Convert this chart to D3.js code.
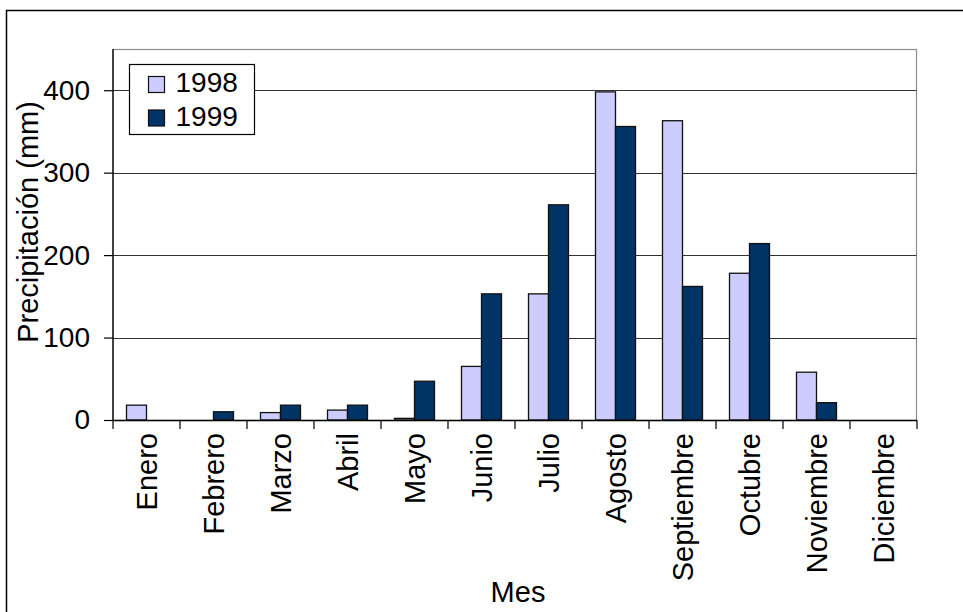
<!DOCTYPE html>
<html>
<head>
<meta charset="utf-8">
<script src="https://cdn.jsdelivr.net/npm/d3@7"></script>
<style>
  html, body { margin: 0; padding: 0; background: #fff; }
  svg { display: block; }
  text { font-family: "Liberation Sans", Arial, sans-serif; fill: #000; }
</style>
</head>
<body>
<svg id="chart" width="963" height="612"></svg>
<script>
// Monthly rainfall, two seasons
const months = ["Enero", "Febrero", "Marzo", "Abril", "Mayo", "Junio", "Julio",
                "Agosto", "Septiembre", "Octubre", "Noviembre", "Diciembre"];
const seriesNames = ["1998", "1999"];
const rain1998 = [18, 0, 9, 12, 2, 65, 153, 398, 363, 178, 58, 0];
const rain1999 = [0, 10, 18, 18, 47, 153, 261, 356, 162, 214, 21, 0];
const yTicks = [0, 100, 200, 300, 400];
const seriesColors = ["#CCCCFF", "#003366"];

const W = 963, H = 612;
const plot = { left: 113, top: 49, right: 917, bottom: 420 };
const FS = 29;

const svg = d3.select("#chart");

// outer chart frame
svg.append("rect")
  .attr("x", 6.5).attr("y", 10.5)
  .attr("width", W + 20).attr("height", H + 20)
  .attr("fill", "#fff").attr("stroke", "#000").attr("stroke-width", 1.5);

const x = d3.scaleBand().domain(months).range([plot.left, plot.right]).padding(0);
const xs = d3.scaleBand().domain(seriesNames).range([0, x.bandwidth()])
  .paddingInner(0).paddingOuter(0.675);
const y = d3.scaleLinear().domain([0, 450]).range([plot.bottom, plot.top]);

// plot area border
svg.append("rect")
  .attr("x", plot.left).attr("y", plot.top + 0.5)
  .attr("width", plot.right - plot.left - 0.5).attr("height", plot.bottom - plot.top)
  .attr("fill", "none").attr("stroke", "#8c8c8c").attr("stroke-width", 1.2);

// gridlines
svg.append("g").selectAll("line").data(yTicks.filter(d => d > 0)).join("line")
  .attr("x1", plot.left).attr("x2", plot.right - 0.5)
  .attr("y1", d => Math.round(y(d)) + 0.5).attr("y2", d => Math.round(y(d)) + 0.5)
  .attr("stroke", "#333").attr("stroke-width", 1);

// bars
const rows = months.map((m, i) => ({ month: m, values: [rain1998[i], rain1999[i]] }));
const groups = svg.append("g").selectAll("g").data(rows).join("g")
  .attr("transform", d => `translate(${x(d.month)},0)`);
groups.selectAll("rect")
  .data(d => d.values.map((v, j) => ({ series: seriesNames[j], value: v, j })).filter(e => e.value > 0))
  .join("rect")
  .attr("x", d => xs(d.series))
  .attr("width", xs.bandwidth())
  .attr("y", d => y(d.value))
  .attr("height", d => y(0) - y(d.value))
  .attr("fill", d => seriesColors[d.j])
  .attr("stroke", "#111").attr("stroke-width", 1.3);

// y axis
const yAxis = d3.axisLeft(y).tickValues(yTicks).tickSize(9).tickPadding(14).tickFormat(d3.format("d"));
const gy = svg.append("g").attr("transform", `translate(${plot.left},0)`).call(yAxis);
gy.select(".domain").attr("stroke", "#000").attr("stroke-width", 1.3).attr("d", `M0,${plot.top}V${plot.bottom}`);
gy.selectAll(".tick line").attr("stroke", "#000").attr("stroke-width", 1.2);
gy.selectAll(".tick text").attr("font-size", 28).attr("font-family", "Liberation Sans, Arial, sans-serif");

// x axis: ticks at category boundaries
const gx = svg.append("g");
gx.append("line")
  .attr("x1", plot.left).attr("x2", plot.right)
  .attr("y1", plot.bottom + 0.5).attr("y2", plot.bottom + 0.5)
  .attr("stroke", "#000").attr("stroke-width", 1.3);
const bounds = months.map(m => x(m)).concat([plot.right]);
gx.selectAll("line.tk").data(bounds).join("line").attr("class", "tk")
  .attr("x1", d => d).attr("x2", d => d)
  .attr("y1", plot.bottom).attr("y2", plot.bottom + 9)
  .attr("stroke", "#000").attr("stroke-width", 1.2);
gx.selectAll("text").data(months).join("text")
  .attr("transform", d => `translate(${x(d) + x.bandwidth() / 2 + 10},${plot.bottom + 13}) rotate(-90)`)
  .attr("text-anchor", "end")
  .attr("font-size", FS)
  .text(d => d);

// axis titles
svg.append("text")
  .attr("transform", `translate(38,222) rotate(-90)`)
  .attr("text-anchor", "middle").attr("font-size", FS)
  .text("Precipitación (mm)");
svg.append("text")
  .attr("x", (plot.left + plot.right) / 2 + 3).attr("y", 602)
  .attr("text-anchor", "middle").attr("font-size", FS)
  .text("Mes");

// legend
const lg = svg.append("g").attr("transform", "translate(129.5,64.5)");
lg.append("rect").attr("width", 125).attr("height", 70)
  .attr("fill", "#fff").attr("stroke", "#000").attr("stroke-width", 1.2);
seriesNames.forEach((s, i) => {
  lg.append("rect")
    .attr("x", 19).attr("y", 12 + i * 33.5).attr("width", 16).attr("height", 16)
    .attr("fill", seriesColors[i]).attr("stroke", "#111").attr("stroke-width", 1.2);
  lg.append("text")
    .attr("x", 46).attr("y", 27.5 + i * 34)
    .attr("font-size", 28).text(s);
});
</script>
</body>
</html>
